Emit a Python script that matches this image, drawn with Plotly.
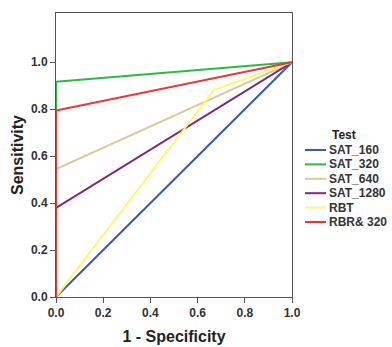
import plotly.graph_objects as go

# Data
series_names = ["SAT_160", "SAT_320", "SAT_640", "SAT_1280", "RBT", "RBR& 320"]
series_x = [
    [0.0, 1.0],
    [0.0, 0.0, 1.0],
    [0.0, 0.0, 1.0],
    [0.0, 0.0, 1.0],
    [0.0, 0.67, 1.0],
    [0.0, 0.0, 1.0],
]
series_y = [
    [0.0, 1.0],
    [0.0, 0.917, 1.0],
    [0.0, 0.545, 1.0],
    [0.0, 0.38, 1.0],
    [0.0, 0.883, 1.0],
    [0.0, 0.795, 1.0],
]
series_colors = ["#3E58AC", "#2EB848", "#D3CE97", "#7C287D", "#FBF873", "#EF3338"]
legend_labels = ["SAT_160", "SAT_320", "SAT_640", "SAT_1280", "RBT", "RBR& 320"]
tick_vals = [0.0, 0.2, 0.4, 0.6, 0.8, 1.0]
tick_text = ["0.0", "0.2", "0.4", "0.6", "0.8", "1.0"]

FONT = "Liberation Sans, Arial, sans-serif"

fig = go.Figure()
for name, xs, ys, c in zip(series_names, series_x, series_y, series_colors):
    fig.add_trace(go.Scatter(x=xs, y=ys, mode="lines", name=name,
                             line=dict(color=c, width=2), showlegend=False))

axis_common = dict(
    showgrid=False, zeroline=False, showline=True, linecolor="#555555",
    linewidth=1, mirror=True, ticks="outside", ticklen=5, tickcolor="#555555",
    tickvals=tick_vals, ticktext=["<b>" + t + "</b>" for t in tick_text],
    layer="below traces", automargin=False,
    tickfont=dict(family=FONT, size=12, color="#333333"),
)

fig.update_layout(
    width=392, height=347,
    margin=dict(l=56, r=100, t=13, b=50),
    paper_bgcolor="white", plot_bgcolor="white",
    xaxis=dict(range=[0, 1], title=dict(text="<b>1 - Specificity</b>", standoff=11,
               font=dict(family=FONT, size=16, color="#222222")), **axis_common),
    yaxis=dict(range=[0, 1.21], title=dict(text="<b>Sensitivity</b>", standoff=3,
               font=dict(family=FONT, size=16, color="#222222")), **axis_common),
    showlegend=False,
)

# Manual legend (compact spacing as in the reference)
plot_h = 347 - 13 - 50
plot_w = 392 - 56 - 100
def py(px):
    return (347 - 50 - px) / plot_h
def pxx(px):
    return (px - 56) / plot_w

fig.add_annotation(x=pxx(344), y=py(135), xref="paper", yref="paper",
                   text="<b>Test</b>", showarrow=False, xanchor="center", yanchor="middle",
                   font=dict(family=FONT, size=12, color="#222222"))
for i, (lab, c) in enumerate(zip(legend_labels, series_colors)):
    ypx = 150 + i * 14.4
    fig.add_shape(type="line", xref="paper", yref="paper",
                  x0=pxx(305), x1=pxx(326), y0=py(ypx), y1=py(ypx),
                  line=dict(color=c, width=2))
    fig.add_annotation(x=pxx(327), y=py(ypx), xref="paper", yref="paper",
                       text="<b>" + lab + "</b>", showarrow=False,
                       xanchor="left", yanchor="middle",
                       font=dict(family=FONT, size=12, color="#333333"))

fig.write_html("out.html", config={"displayModeBar": False},
               post_script="document.body.style.margin='0';")
